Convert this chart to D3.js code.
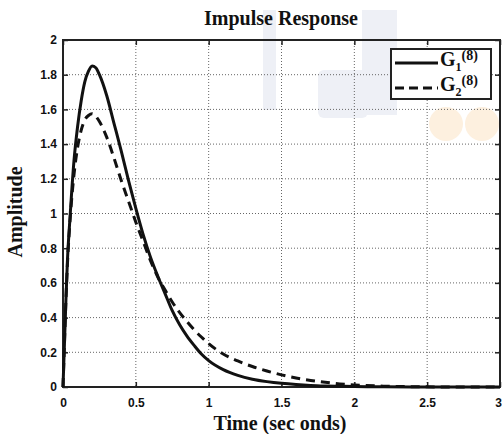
<!DOCTYPE html>
<html>
<head>
<meta charset="utf-8">
<script src="https://cdn.jsdelivr.net/npm/d3@7"></script>
<style>
  html, body { margin: 0; padding: 0; background: #fff; }
  svg { display: block; }
</style>
</head>
<body>
<svg id="chart" width="502" height="434"></svg>
<script>
// ---- data ----
const time = [0, 0.01, 0.02, 0.03, 0.05, 0.075, 0.1, 0.125, 0.15, 0.175, 0.2, 0.225, 0.25, 0.3, 0.35, 0.4, 0.45, 0.5, 0.55, 0.6, 0.65, 0.7, 0.75, 0.8, 0.85, 0.9, 0.95, 1.0, 1.1, 1.2, 1.3, 1.4, 1.5, 1.6, 1.7, 1.8, 1.9, 2.0, 2.2, 2.4, 2.6, 2.8, 3.0];
const g1 = [0, 0.25, 0.5, 0.72, 1.0, 1.3, 1.5, 1.65, 1.76, 1.82, 1.85, 1.84, 1.80, 1.68, 1.52, 1.36, 1.19, 1.03, 0.88, 0.75, 0.64, 0.54, 0.44, 0.36, 0.295, 0.24, 0.19, 0.152, 0.1, 0.067, 0.045, 0.031, 0.021, 0.014, 0.009, 0.006, 0.004, 0.003, 0.001, 0, 0, 0, 0];
const g2 = [0, 0.25, 0.5, 0.7, 0.98, 1.22, 1.38, 1.48, 1.54, 1.565, 1.575, 1.56, 1.53, 1.44, 1.32, 1.19, 1.07, 0.95, 0.84, 0.73, 0.635, 0.56, 0.49, 0.43, 0.378, 0.33, 0.288, 0.25, 0.19, 0.15, 0.118, 0.092, 0.07, 0.052, 0.038, 0.027, 0.018, 0.012, 0.005, 0.002, 0, 0, 0];
const seriesNames = ["G1(8)", "G2(8)"];
const xTicks = [0, 0.5, 1, 1.5, 2, 2.5, 3];
const xTickLabels = ["0", "0.5", "1", "1.5", "2", "2.5", "3"];
const yTicks = [0, 0.2, 0.4, 0.6, 0.8, 1, 1.2, 1.4, 1.6, 1.8, 2];
const yTickLabels = ["0", "0.2", "0.4", "0.6", "0.8", "1", "1.2", "1.4", "1.6", "1.8", "2"];
const titleText = "Impulse Response";
const xLabelText = "Time (sec onds)";
const yLabelText = "Amplitude";

// ---- layout ----
const svg = d3.select("#chart");
const L = 63, R = 500, T = 40, B = 387;
const x = d3.scaleLinear().domain([0, 3]).range([L, R]);
const y = d3.scaleLinear().domain([0, 2]).range([B, T]);

// faint watermark behind everything
const wm = svg.append("g");
wm.append("rect").attr("x", 263).attr("y", 10).attr("width", 13).attr("height", 100).attr("fill", "#eef0f6");
wm.append("rect").attr("x", 362).attr("y", 10).attr("width", 35).attr("height", 105).attr("fill", "#eef0f6");
wm.append("rect").attr("x", 318).attr("y", 70).attr("width", 50).attr("height", 48).attr("fill", "#eef0f6").attr("rx", 6);
wm.append("circle").attr("cx", 446).attr("cy", 124).attr("r", 17).attr("fill", "#fdf0df");
wm.append("circle").attr("cx", 482).attr("cy", 124).attr("r", 17).attr("fill", "#fdf0df");

// grid
const grid = svg.append("g").attr("stroke", "#666").attr("stroke-width", 1).attr("stroke-dasharray", "1,2");
grid.selectAll("line.gx").data(xTicks.slice(1, -1)).join("line")
  .attr("x1", d => x(d)).attr("x2", d => x(d)).attr("y1", T).attr("y2", B);
grid.selectAll("line.gy").data(yTicks.slice(1, -1)).join("line")
  .attr("x1", L).attr("x2", R).attr("y1", d => y(d)).attr("y2", d => y(d));

// axes (MATLAB-style inward ticks)
const fmtX = (d, i) => xTickLabels[i];
const fmtY = (d, i) => yTickLabels[i];
const axB = svg.append("g").attr("transform", `translate(0,${B})`)
  .call(d3.axisBottom(x).tickValues(xTicks).tickFormat(fmtX).tickSize(-5).tickPadding(11));
const axT = svg.append("g").attr("transform", `translate(0,${T})`)
  .call(d3.axisTop(x).tickValues(xTicks).tickFormat("").tickSize(-5));
const axL = svg.append("g").attr("transform", `translate(${L},0)`)
  .call(d3.axisLeft(y).tickValues(yTicks).tickFormat(fmtY).tickSize(-5).tickPadding(6));
const axR = svg.append("g").attr("transform", `translate(${R},0)`)
  .call(d3.axisRight(y).tickValues(yTicks).tickFormat("").tickSize(-5));
[axB, axT, axL, axR].forEach(a => {
  a.select(".domain").remove();
  a.selectAll(".tick line").attr("stroke", "#222").attr("stroke-width", 1.5);
  a.selectAll(".tick text").attr("fill", "#111")
    .style("font-family", "'Liberation Sans', Arial, sans-serif")
    .style("font-weight", "bold").style("font-size", "12px");
});
// keep the last x label inside the window
axB.selectAll(".tick text").filter((d, i) => i === xTicks.length - 1).attr("dx", "-2");

// frame
svg.append("rect").attr("x", L).attr("y", T).attr("width", R - L).attr("height", B - T)
  .attr("fill", "none").attr("stroke", "#222").attr("stroke-width", 2);

// lines
const pts1 = time.map((t, i) => [t, g1[i]]);
const pts2 = time.map((t, i) => [t, g2[i]]);
const line = d3.line().x(d => x(d[0])).y(d => y(d[1])).curve(d3.curveMonotoneX);
svg.append("path").datum(pts2).attr("d", line).attr("fill", "none")
  .attr("stroke", "#111").attr("stroke-width", 3).attr("stroke-dasharray", "9,6");
svg.append("path").datum(pts1).attr("d", line).attr("fill", "none")
  .attr("stroke", "#111").attr("stroke-width", 3);

// title & axis labels
const serif = "'Liberation Serif', 'Times New Roman', serif";
svg.append("text").attr("x", 281).attr("y", 25).attr("text-anchor", "middle")
  .style("font-family", serif).style("font-weight", "bold").style("font-size", "20px")
  .attr("fill", "#111").text(titleText);
svg.append("text").attr("x", 280).attr("y", 430).attr("text-anchor", "middle")
  .style("font-family", serif).style("font-weight", "bold").style("font-size", "20px")
  .attr("fill", "#111").text(xLabelText);
svg.append("text").attr("transform", "translate(22,212) rotate(-90)").attr("text-anchor", "middle")
  .style("font-family", serif).style("font-weight", "bold").style("font-size", "20px")
  .attr("fill", "#111").text(yLabelText);

// legend
const lg = svg.append("g");
lg.append("rect").attr("x", 391).attr("y", 49).attr("width", 100).attr("height", 50)
  .attr("fill", "#fff").attr("stroke", "#222").attr("stroke-width", 2);
const rows = [{ y: 66, dash: null }, { y: 91, dash: "9,5" }];
rows.forEach((r, i) => {
  lg.append("line").attr("x1", 395).attr("x2", 438).attr("y1", r.y - 3).attr("y2", r.y - 3)
    .attr("stroke", "#111").attr("stroke-width", 3).attr("stroke-dasharray", r.dash);
  const t = lg.append("text").attr("x", 440).attr("y", r.y)
    .style("font-family", serif).style("font-weight", "bold").style("font-size", "20px").attr("fill", "#111");
  t.append("tspan").text(seriesNames[i].charAt(0));
  t.append("tspan").attr("dy", 5).style("font-size", "12px").text(seriesNames[i].charAt(1));
  t.append("tspan").attr("dy", -11).style("font-size", "14px").text(seriesNames[i].slice(2));
});
</script>
</body>
</html>
